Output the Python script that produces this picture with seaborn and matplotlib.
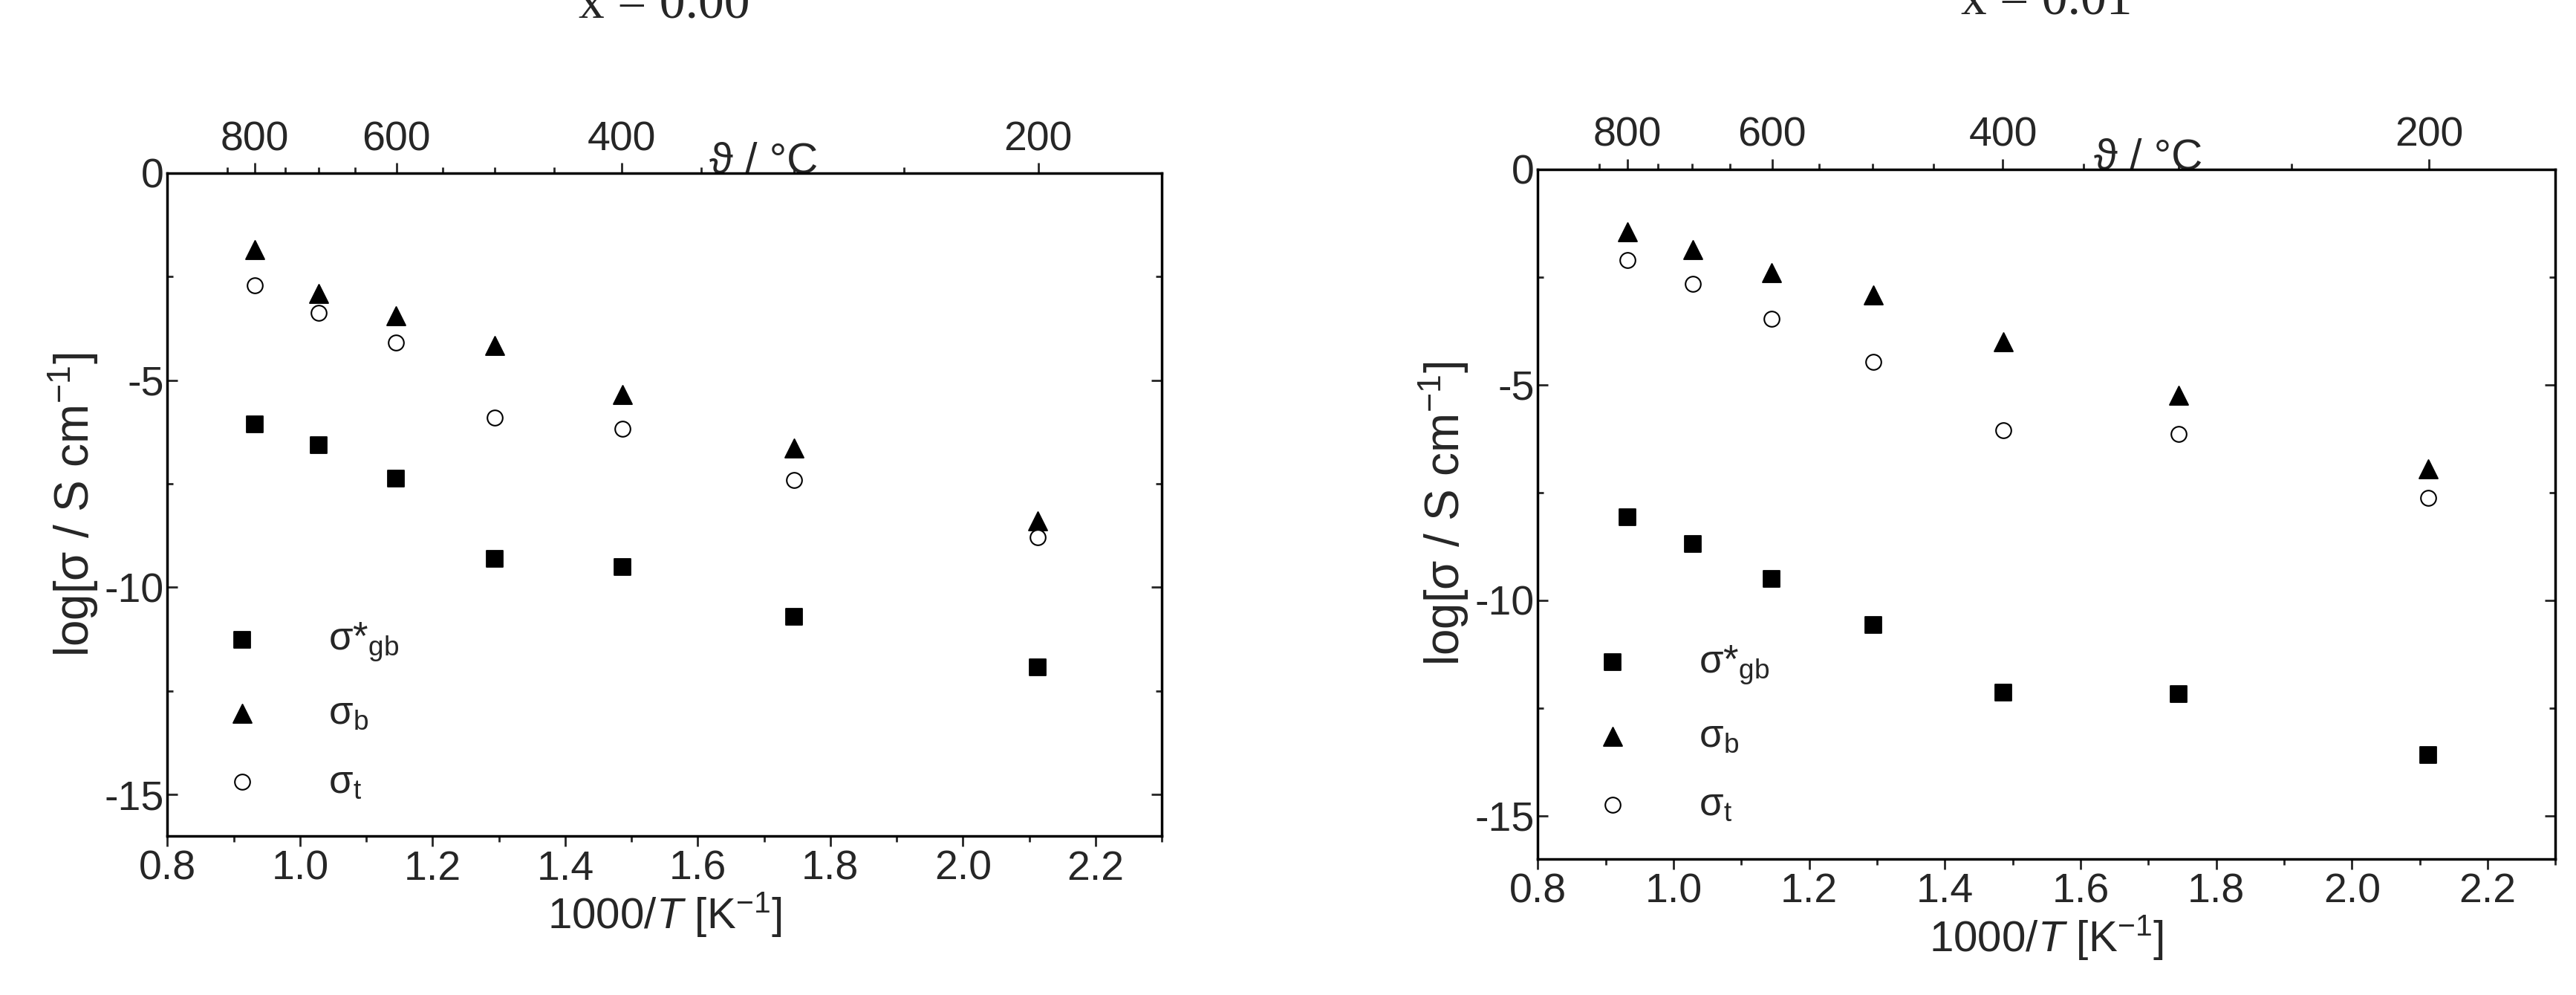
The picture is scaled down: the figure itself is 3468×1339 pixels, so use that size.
import numpy as np
import pandas as pd
import matplotlib
matplotlib.use('Agg')
import matplotlib.pyplot as plt
import seaborn as sns

inv_T = [0.932, 1.028, 1.145, 1.294, 1.486, 1.745, 2.113]

gb_00 = [-6.06, -6.56, -7.38, -9.31, -9.51, -10.72, -11.93]
b_00 = [-1.84, -2.91, -3.44, -4.16, -5.34, -6.64, -8.39]
t_00 = [-2.71, -3.37, -4.09, -5.90, -6.18, -7.41, -8.79]

gb_01 = [-8.08, -8.70, -9.51, -10.58, -12.14, -12.18, -13.60]
b_01 = [-1.45, -1.86, -2.40, -2.92, -4.01, -5.24, -6.95]
t_01 = [-2.11, -2.67, -3.47, -4.48, -6.05, -6.15, -7.63]

titles = ['x = 0.00', 'x = 0.01']
temp_ticks = [850, 800, 750, 700, 650, 600, 550, 500, 450, 400, 350, 300, 250, 200, 150]

sns.set_theme(style='ticks')
plt.rcParams['font.family'] = ['Liberation Sans', 'DejaVu Sans']
plt.rcParams['axes.unicode_minus'] = False
plt.rcParams['mathtext.fontset'] = 'custom'
plt.rcParams['mathtext.rm'] = 'Liberation Sans'
plt.rcParams['mathtext.it'] = 'Liberation Sans:italic'

fig = plt.figure(figsize=(34.68, 13.39), dpi=100)
boxes = [[0.065, 0.160, 0.386, 0.666], [0.597, 0.137, 0.395, 0.693]]

def k2inv(t):
    return 1000.0 / (np.asarray(t, dtype=float) + 273.15)

for box, title, gb, b, t in zip(boxes, titles, [gb_00, gb_01], [b_00, b_01], [t_00, t_01]):
    ax = fig.add_axes(box)
    df = pd.DataFrame({'x': inv_T * 3,
                       'y': gb + b + t,
                       's': ['gb'] * 7 + ['b'] * 7 + ['t'] * 7})
    sns.scatterplot(data=df[df.s == 'gb'], x='x', y='y', marker='s', color='black', s=260,
                    edgecolor='black', label='σ*$_{\\rm gb}$', ax=ax)
    sns.scatterplot(data=df[df.s == 'b'], x='x', y='y', marker='^', color='black', s=320,
                    edgecolor='black', label='σ$_{\\rm b}$', ax=ax)
    sns.scatterplot(data=df[df.s == 't'], x='x', y='y', marker='o', facecolor='white', s=220,
                    edgecolor='black', linewidth=1.5, label='σ$_{\\rm t}$', ax=ax)
    ax.set_xlim(0.8, 2.3)
    ax.set_ylim(-16, 0)
    ax.set_xticks(np.arange(0.8, 2.21, 0.2))
    ax.set_xticks(np.arange(0.9, 2.31, 0.2), minor=True)
    ax.set_yticks([0, -5, -10, -15])
    ax.set_yticks([-2.5, -7.5, -12.5], minor=True)
    ax.tick_params(axis='both', which='major', labelsize=40, length=10, width=2, direction='out')
    ax.tick_params(axis='x', which='minor', length=6, width=2)
    ax.tick_params(axis='y', which='both', right=True)
    ax.tick_params(axis='y', which='minor', length=6, width=2)
    ax.tick_params(axis='y', which='both', direction='in')
    for sp in ax.spines.values():
        sp.set_linewidth(2.5)
        sp.set_color('black')
    ax.set_xlabel('1000/$T$ [K$^{-1}$]', fontsize=42, labelpad=2)
    ax.set_ylabel('log[σ / S cm$^{-1}$]', fontsize=46)
    ax.legend(loc='lower left', bbox_to_anchor=(0.0, 0.0), frameon=False, fontsize=38,
              handletextpad=1.2, labelspacing=0.8)
    top = ax.secondary_xaxis('top', functions=(lambda v: 1000.0 / v - 273.15, k2inv))
    top.set_xticks([800, 600, 400, 200])
    top.set_xticks(temp_ticks, minor=True)
    top.tick_params(which='major', labelsize=40, length=10, width=2)
    top.tick_params(which='minor', length=6, width=2)
    top.set_xlabel('ϑ / °C', fontsize=42, labelpad=4)
    top.xaxis.set_label_coords(0.6, 1.2)
    ax.set_title(title, fontsize=50, family='Liberation Serif', pad=150)

fig.savefig('out.png', dpi=100)
